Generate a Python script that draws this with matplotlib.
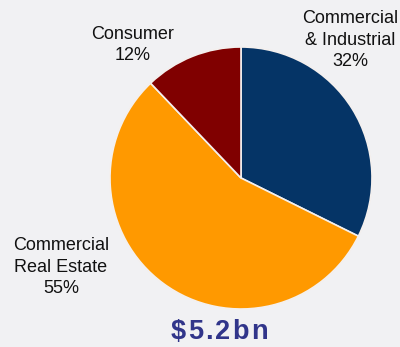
import matplotlib
matplotlib.use('Agg')
from matplotlib import pyplot as plt

plt.rcParams['font.family'] = ['Liberation Sans', 'DejaVu Sans']

segments = ['Commercial\n& Industrial', 'Commercial\nReal Estate', 'Consumer']
shares = [32, 55, 12]
colors = ['#053466', '#ff9900', '#800000']
total = '$5.2bn'

# label anchor points in pixel units (y measured up from the bottom)
label_xy = [(350, 307), (61, 80), (133, 302)]

fig = plt.figure(figsize=(4.0, 3.47), dpi=100)
fig.patch.set_facecolor('#f1f1f3')
ax = fig.add_axes([0, 0, 1, 1])
ax.set_xlim(0, 400)
ax.set_ylim(0, 347)
ax.set_aspect('equal')
ax.axis('off')

ax.pie(shares, colors=colors, startangle=90, counterclock=False,
       center=(241, 169), radius=131,
       wedgeprops=dict(edgecolor='#f4f0ee', linewidth=1.2))
ax.set_xlim(0, 400)
ax.set_ylim(0, 347)

for name, pct, (x, y) in zip(segments, shares, label_xy):
    ax.text(x, y, f'{name}\n{pct}%', ha='center', va='center',
            fontsize=13, color='#111111', linespacing=1.32)

# total under the pie, drawn char by char to get wider tracking
renderer = fig.canvas.get_renderer()
tracking = 2.2
chars = []
for ch in total:
    t = ax.text(0, 15, ch, ha='left', va='center', fontsize=19.5,
                fontweight='bold', color='#31358a')
    chars.append((t, t.get_window_extent(renderer).width))
width = sum(w for _, w in chars) + tracking * (len(chars) - 1)
x = 219 - width / 2
for t, w in chars:
    t.set_x(x)
    x += w + tracking

fig.savefig('out.png', dpi=100, facecolor=fig.get_facecolor())
